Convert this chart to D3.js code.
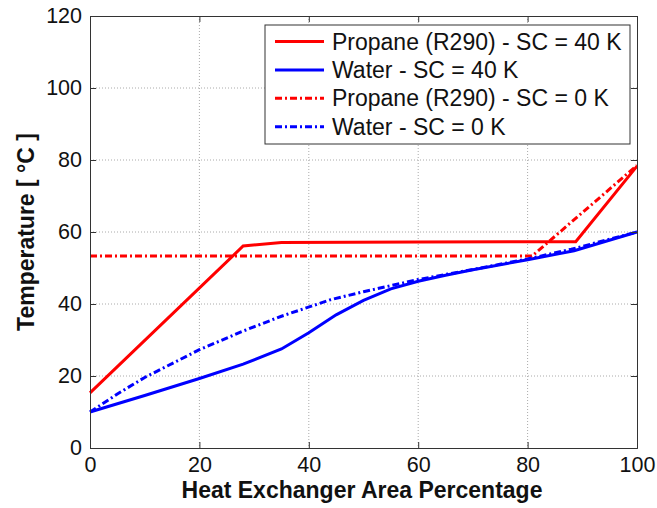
<!DOCTYPE html>
<html>
<head>
<meta charset="utf-8">
<script src="https://cdn.jsdelivr.net/npm/d3@7"></script>
<style>
  body { margin: 0; background: #fff; }
  svg { display: block; font-family: "Liberation Sans", Arial, sans-serif; }
</style>
</head>
<body>
<svg width="657" height="508"></svg>
<script>
// series: [area %, temperature °C]
var propaneSC40 = [[0,15.3],[28,56.1],[35,57.1],[60,57.2],[88.8,57.3],[100,78.3]];
var waterSC40   = [[0,10],[10,14.6],[20,19.3],[28,23.3],[35,27.5],[40,32],[45,37],[50,41],[55,44.2],[60,46.3],[65,48],[70,49.5],[80,52.3],[88.5,54.8],[100,60]];
var propaneSC0  = [[0,53.3],[80.8,53.3],[100,78.5]];
var waterSC0    = [[0,10],[5,15],[10,19.6],[20,27.3],[28,32.5],[35,36.6],[44,41.2],[50,43.4],[60,46.8],[70,49.6],[80,52.5],[88,55.2],[100,60]];

var seriesNames = ["Propane (R290) - SC = 40 K", "Water - SC = 40 K", "Propane (R290) - SC = 0 K", "Water - SC = 0 K"];
var xTicks = [0,20,40,60,80,100];
var yTicks = [0,20,40,60,80,100,120];

var series = [
  {name: seriesNames[0], data: propaneSC40, color: "#ff0000", dash: null},
  {name: seriesNames[1], data: waterSC40,   color: "#0000ff", dash: null},
  {name: seriesNames[2], data: propaneSC0,  color: "#ff0000", dash: "7,3,2,3"},
  {name: seriesNames[3], data: waterSC0,    color: "#0000ff", dash: "7,3,2,3"}
];

var margin = {left:90, right:20, top:16, bottom:60};
var width = 637 - margin.left;
var height = 448 - margin.top;

var svg = d3.select("svg");
var g = svg.append("g")
  .attr("transform","translate("+margin.left+","+margin.top+")");

var x = d3.scaleLinear().domain([0,100]).range([0,width]);
var y = d3.scaleLinear().domain([0,120]).range([height,0]);

// grid
g.selectAll(".gx").data(xTicks.slice(1,-1)).enter().append("line")
  .attr("x1", function(d){return x(d);}).attr("x2", function(d){return x(d);})
  .attr("y1", 0).attr("y2", height)
  .attr("stroke","#aaa").attr("stroke-width",1).attr("stroke-dasharray","1,2");
g.selectAll(".gy").data(yTicks.slice(1,-1)).enter().append("line")
  .attr("y1", function(d){return y(d);}).attr("y2", function(d){return y(d);})
  .attr("x1", 0).attr("x2", width)
  .attr("stroke","#aaa").attr("stroke-width",1).attr("stroke-dasharray","1,2");

// lines
var line = d3.line()
  .x(function(d){return x(d[0]);})
  .y(function(d){return y(d[1]);});

g.selectAll(".series").data(series).enter().append("path")
  .attr("d", function(d){return line(d.data);})
  .attr("fill","none")
  .attr("stroke", function(d){return d.color;})
  .attr("stroke-width",3)
  .attr("stroke-dasharray", function(d){return d.dash;});

// axes with inward ticks, mirrored on top / right
var xAxis = d3.axisBottom(x).tickValues(xTicks).tickSize(-6).tickPadding(9);
var yAxis = d3.axisLeft(y).tickValues(yTicks).tickSize(-6).tickPadding(8);

var gx = g.append("g").attr("transform","translate(0,"+height+")").call(xAxis);
var gy = g.append("g").call(yAxis);
g.append("g").call(d3.axisTop(x).tickValues(xTicks).tickSize(-6).tickFormat(""));
g.append("g").attr("transform","translate("+width+",0)")
  .call(d3.axisRight(y).tickValues(yTicks).tickSize(-6).tickFormat(""));

g.selectAll(".domain").attr("stroke","#333");
g.selectAll(".tick line").attr("stroke","#333");
g.selectAll(".tick text").attr("font-size","21.5px").attr("fill","#111")
  .attr("font-family","'Liberation Sans', Arial, sans-serif");

// legend
var leg = svg.append("g").attr("transform","translate(265,25)");
leg.append("rect").attr("width",365).attr("height",119)
  .attr("fill","#fff").attr("stroke","#333").attr("stroke-width",1);
series.forEach(function(s,i){
  var yy = 16.5 + i*28.4;
  leg.append("line").attr("x1",10).attr("x2",59).attr("y1",yy).attr("y2",yy)
    .attr("stroke",s.color).attr("stroke-width",3).attr("stroke-dasharray",s.dash);
  leg.append("text").attr("x",67).attr("y",yy).attr("dy","0.35em")
    .attr("font-size","23px").attr("fill","#111").text(s.name);
});

// axis labels
svg.append("text").attr("x",362).attr("y",497.5).attr("text-anchor","middle")
  .attr("font-size","23px").attr("font-weight","bold").attr("fill","#111")
  .text("Heat Exchanger Area Percentage");
svg.append("text").attr("transform","translate(34,232) rotate(-90)")
  .attr("text-anchor","middle")
  .attr("font-size","23px").attr("font-weight","bold").attr("fill","#111")
  .text("Temperature [ °C ]");
</script>
</body>
</html>
